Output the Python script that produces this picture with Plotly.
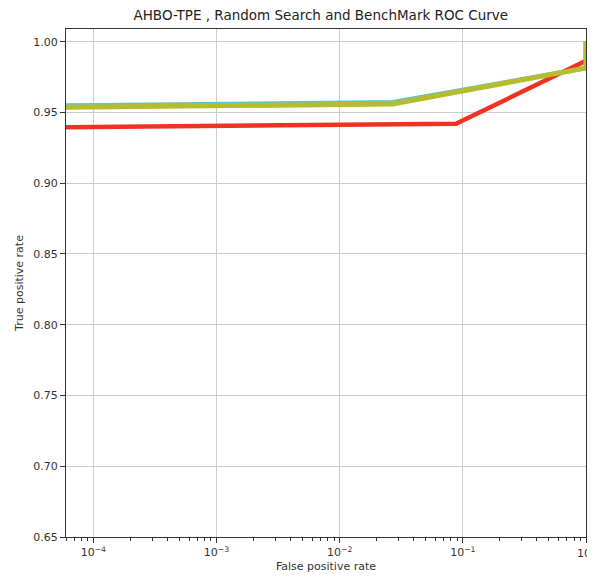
import plotly.graph_objects as go

# ROC data (false positive rate, true positive rate)
fpr_tpe = [1e-5, 0.027, 1.0, 1.0]
tpr_tpe = [0.9542, 0.9572, 0.9815, 1.0]

fpr_rs = [1e-5, 0.088, 1.0, 1.0]
tpr_rs = [0.9390, 0.9420, 0.9865, 1.0]

fpr_bm = [1e-5, 0.027, 1.0, 1.0]
tpr_bm = [0.9530, 0.9560, 0.9815, 1.0]

xtick_vals = [1e-4, 1e-3, 1e-2, 1e-1, 1]
xtick_text = ["10<sup>−4</sup>", "10<sup>−3</sup>", "10<sup>−2</sup>", "10<sup>−1</sup>", "10<sup>0</sup>"]
xminor_vals = [m * 10.0 ** e for e in range(-5, 0) for m in range(2, 10)]
ytick_vals = [0.65, 0.70, 0.75, 0.80, 0.85, 0.90, 0.95, 1.00]

fig = go.Figure()
fig.add_trace(go.Scatter(x=fpr_tpe, y=tpr_tpe, mode="lines", name="AHBO-TPE",
                         line=dict(color="#5fc4c4", width=4.5)))
fig.add_trace(go.Scatter(x=fpr_rs, y=tpr_rs, mode="lines", name="Random Search",
                         line=dict(color="#ee3322", width=4.5)))
fig.add_trace(go.Scatter(x=fpr_bm, y=tpr_bm, mode="lines", name="BenchMark",
                         line=dict(color="#b5bd2e", width=5)))

# page body has an 8px default margin, so the figure is sized to fit the window
fig.update_layout(
    width=587, height=573,
    paper_bgcolor="white", plot_bgcolor="white",
    margin=dict(l=58, r=9, t=21, b=44),
    showlegend=False,
    font=dict(family="DejaVu Sans", size=11, color="#333333"),
    title=dict(text="AHBO-TPE , Random Search and BenchMark ROC Curve",
               xref="paper", x=0.49, xanchor="center", y=0.988, yanchor="middle",
               font=dict(size=13.5, color="#222222")),
)
fig.update_xaxes(
    type="log", range=[-4.222, 0.0], automargin=False,
    tickvals=xtick_vals, ticktext=xtick_text,
    showgrid=True, gridcolor="#cccccc", gridwidth=1,
    showline=True, linecolor="#333333", linewidth=1, mirror=True,
    ticks="outside", ticklen=5, tickcolor="#333333",
    minor=dict(tickmode="array", tickvals=xminor_vals, ticks="outside",
               ticklen=2.5, tickcolor="#333333", showgrid=False),
    zeroline=False,
    title=dict(text="False positive rate", font=dict(size=11), standoff=4),
)
fig.update_yaxes(
    range=[0.65, 1.009], automargin=False,
    tickvals=ytick_vals, tickformat=".2f",
    showgrid=True, gridcolor="#cccccc", gridwidth=1,
    showline=True, linecolor="#333333", linewidth=1, mirror=True,
    ticks="outside", ticklen=5, tickcolor="#333333",
    zeroline=False,
    title=dict(text="True positive rate", font=dict(size=11), standoff=7),
)

# last tick label overflows the right edge (plotly hides it), so draw it as text
fig.add_annotation(x=0, xref="x", y=0, yref="paper", text=xtick_text[-1],
                   showarrow=False, xanchor="center", yanchor="top", yshift=-6,
                   font=dict(size=11, color="#333333"))

fig.write_html("out.html")
